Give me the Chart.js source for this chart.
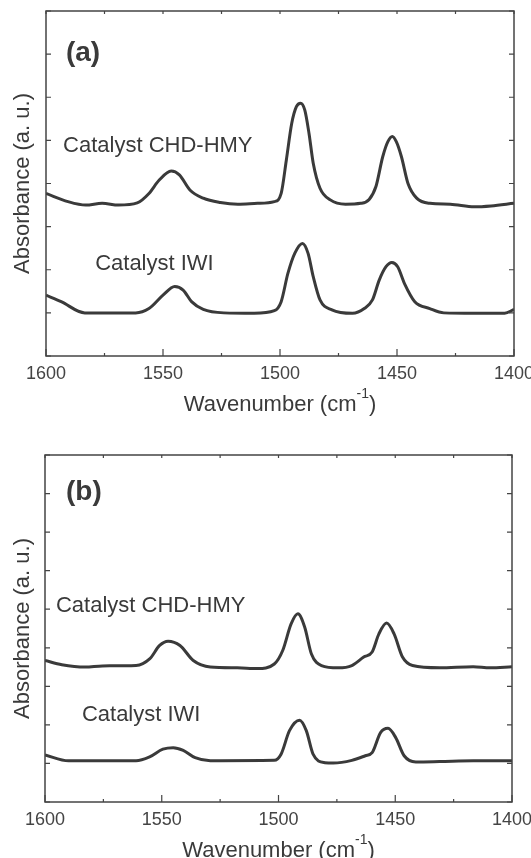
<!DOCTYPE html>
<html>
<head>
<meta charset="utf-8">
<script src="https://cdn.jsdelivr.net/npm/chart.js@4"></script>
<style>
  html, body { margin: 0; padding: 0; background: #fff; overflow: hidden; }
  #wrap { position: relative; width: 531px; height: 858px; }
  canvas { position: absolute; left: 0; }
</style>
</head>
<body>
<div id="wrap">
  <canvas id="chartA" width="531" height="430" style="top:0"></canvas>
  <canvas id="chartB" width="531" height="450" style="top:430px"></canvas>
</div>
<script>
// ===============================
// Data
// ===============================
const xTickValues = [1600, 1550, 1500, 1450, 1400];

// panel (a)
const wnA_chd = [1600, 1590.6, 1583, 1576, 1569, 1561, 1556, 1551.6, 1546.5, 1543, 1538.5, 1532.8, 1525.5, 1518, 1509.6, 1502.4, 1499.5, 1497.3, 1495, 1493, 1491.2, 1489.4, 1487.6, 1485.8, 1482.9, 1478.5, 1472, 1465.5, 1461.9, 1459, 1456.1, 1453.9, 1452, 1450.3, 1448.1, 1445.3, 1441.6, 1435.9, 1427.2, 1417, 1409.8, 1400];
const absA_chd = [3.77, 3.58, 3.50, 3.54, 3.50, 3.55, 3.77, 4.08, 4.29, 4.20, 3.85, 3.66, 3.56, 3.52, 3.54, 3.58, 3.77, 4.54, 5.39, 5.78, 5.86, 5.70, 5.16, 4.47, 3.89, 3.62, 3.52, 3.54, 3.63, 3.93, 4.62, 4.97, 5.09, 4.97, 4.62, 4.00, 3.66, 3.54, 3.52, 3.46, 3.48, 3.54];

const wnA_iwi = [1600, 1593.5, 1583.4, 1576, 1561.7, 1556, 1550, 1545, 1541.4, 1537.8, 1532.8, 1524, 1511, 1502.4, 1499.5, 1496.6, 1493.7, 1490.4, 1488, 1485.8, 1482.9, 1477.8, 1469, 1464, 1460.5, 1457.6, 1454.7, 1452.2, 1449.7, 1446.8, 1442.4, 1436, 1430, 1417, 1404, 1400];
const absA_iwi = [1.41, 1.26, 1.00, 1.00, 1.00, 1.10, 1.41, 1.61, 1.53, 1.26, 1.08, 1.00, 0.99, 1.05, 1.26, 1.92, 2.38, 2.61, 2.38, 1.84, 1.30, 1.07, 0.99, 1.10, 1.30, 1.76, 2.07, 2.17, 2.07, 1.68, 1.26, 1.10, 1.00, 0.99, 0.99, 1.08];

// panel (b)
const wnB_chd = [1600, 1592.8, 1582.7, 1575.4, 1561, 1555.2, 1550.9, 1547.3, 1542.2, 1536.5, 1529.2, 1517.7, 1509, 1501.8, 1498.2, 1494.6, 1491.7, 1488.8, 1485.9, 1481.6, 1474.4, 1468.6, 1463.5, 1459.9, 1457, 1453.7, 1450.5, 1446.9, 1442.6, 1431, 1416.6, 1409.4, 1400];
const absB_chd = [3.67, 3.56, 3.50, 3.53, 3.54, 3.71, 4.06, 4.17, 4.06, 3.67, 3.50, 3.48, 3.46, 3.58, 3.93, 4.62, 4.88, 4.54, 3.84, 3.54, 3.48, 3.54, 3.76, 3.89, 4.36, 4.64, 4.36, 3.76, 3.54, 3.48, 3.51, 3.48, 3.51];

const wnB_iwi = [1600, 1589.9, 1575.4, 1561, 1555.2, 1549.5, 1545.1, 1540.8, 1535.7, 1529.2, 1501.8, 1498.9, 1495.3, 1491, 1488.1, 1485.2, 1480.1, 1476.5, 1468.6, 1462.8, 1459.9, 1456.3, 1453.1, 1449.8, 1446.2, 1441.2, 1431, 1416.6, 1400];
const absB_iwi = [1.22, 1.07, 1.07, 1.07, 1.17, 1.37, 1.41, 1.34, 1.15, 1.07, 1.08, 1.24, 1.85, 2.12, 1.85, 1.24, 1.02, 1.01, 1.08, 1.20, 1.28, 1.80, 1.91, 1.67, 1.20, 1.04, 1.05, 1.07, 1.07];

const FONT = "'Liberation Sans', Arial, sans-serif";
const INK = "#3a3a3a";

// ===============================
// Frame, inward ticks and text
// ===============================
const framePlugin = {
  id: "frame",
  afterDraw(chart, args, opts) {
    const { ctx, chartArea: a, scales: { x, y } } = chart;
    ctx.save();
    ctx.strokeStyle = "#444";
    ctx.lineWidth = 1.5;
    ctx.strokeRect(a.left, a.top, a.right - a.left, a.bottom - a.top);

    ctx.lineWidth = 1.2;
    ctx.beginPath();
    // x: major ticks plus minor ones halfway
    const xv = x.ticks.map(t => t.value);
    xv.forEach((v, i) => {
      const px = x.getPixelForValue(v);
      ctx.moveTo(px, a.bottom); ctx.lineTo(px, a.bottom - 7);
      ctx.moveTo(px, a.top); ctx.lineTo(px, a.top + 3);
      if (i < xv.length - 1) {
        const mx = x.getPixelForValue((v + xv[i + 1]) / 2);
        ctx.moveTo(mx, a.bottom); ctx.lineTo(mx, a.bottom - 3);
        ctx.moveTo(mx, a.top); ctx.lineTo(mx, a.top + 3);
      }
    });
    y.ticks.forEach(t => {
      const py = y.getPixelForValue(t.value);
      ctx.moveTo(a.left, py); ctx.lineTo(a.left + 5, py);
      ctx.moveTo(a.right, py); ctx.lineTo(a.right - 5, py);
    });
    ctx.stroke();

    // labels placed in data units
    ctx.fillStyle = INK;
    ctx.textBaseline = "alphabetic";
    ctx.textAlign = "left";
    opts.labels.forEach(l => {
      ctx.font = l.font;
      ctx.fillText(l.text, x.getPixelForValue(l.wn), y.getPixelForValue(l.val));
    });

    // x title with superscript
    const cx = (a.left + a.right) / 2;
    const by = a.bottom + 55;
    const big = "22px " + FONT, small = "14px " + FONT;
    ctx.font = big;
    const w1 = ctx.measureText("Wavenumber (cm").width;
    const w3 = ctx.measureText(")").width;
    ctx.font = small;
    const w2 = ctx.measureText("-1").width;
    let sx = cx - (w1 + w2 + w3) / 2;
    ctx.font = big;
    ctx.fillText("Wavenumber (cm", sx, by);
    ctx.font = small;
    ctx.fillText("-1", sx + w1, by - 13);
    ctx.font = big;
    ctx.fillText(")", sx + w1 + w2, by);
    ctx.restore();
  }
};

function series(wn, ab) {
  return wn.map((w, i) => ({ x: w, y: ab[i] }));
}

function makePanel(id, p) {
  return new Chart(document.getElementById(id), {
    type: "line",
    data: {
      datasets: p.sets.map(s => ({
        data: series(s[0], s[1]),
        borderColor: INK,
        borderWidth: 3,
        pointRadius: 0,
        cubicInterpolationMode: "monotone",
        fill: false
      }))
    },
    options: {
      responsive: false,
      animation: false,
      events: [],
      layout: { padding: { top: p.top, right: p.right, left: 0, bottom: 0 } },
      plugins: {
        legend: { display: false },
        tooltip: { enabled: false },
        frame: { labels: p.labels }
      },
      scales: {
        x: {
          type: "linear",
          reverse: true,
          min: 1400,
          max: 1600,
          afterBuildTicks: s => { s.ticks = xTickValues.map(v => ({ value: v })); },
          afterFit: s => { s.height = p.xHeight; s.paddingLeft = 0; s.paddingRight = 0; },
          grid: { display: false, drawTicks: false },
          border: { display: false },
          ticks: {
            autoSkip: false,
            maxRotation: 0,
            padding: 7,
            color: "#444",
            font: { family: FONT, size: 18 },
            callback: v => String(v)
          }
        },
        y: {
          min: 0,
          max: p.yMax,
          afterFit: s => { s.width = p.yWidth; },
          grid: { display: false, drawTicks: false },
          border: { display: false },
          ticks: { display: false, stepSize: 1 },
          title: {
            display: true,
            text: "Absorbance (a. u.)",
            color: INK,
            padding: { top: 10, bottom: 0 },
            font: { family: FONT, size: 22 }
          }
        }
      }
    },
    plugins: [framePlugin]
  });
}

// ===============================
// Panel (a)
// ===============================
makePanel("chartA", {
  sets: [[wnA_chd, absA_chd], [wnA_iwi, absA_iwi]],
  yMax: 8,
  top: 11,
  right: 17,
  yWidth: 46,
  xHeight: 74,
  labels: [
    { text: "(a)", wn: 1591.5, val: 6.84, font: "bold 28px " + FONT },
    { text: "Catalyst CHD-HMY", wn: 1592.7, val: 4.73, font: "22px " + FONT },
    { text: "Catalyst IWI", wn: 1579, val: 1.99, font: "22px " + FONT }
  ]
});

// ===============================
// Panel (b)
// ===============================
makePanel("chartB", {
  sets: [[wnB_chd, absB_chd], [wnB_iwi, absB_iwi]],
  yMax: 9,
  top: 25,
  right: 19,
  yWidth: 45,
  xHeight: 78,
  labels: [
    { text: "(b)", wn: 1591, val: 7.83, font: "bold 28px " + FONT },
    { text: "Catalyst CHD-HMY", wn: 1595.3, val: 4.93, font: "22px " + FONT },
    { text: "Catalyst IWI", wn: 1584.2, val: 2.10, font: "22px " + FONT }
  ]
});
</script>
</body>
</html>
